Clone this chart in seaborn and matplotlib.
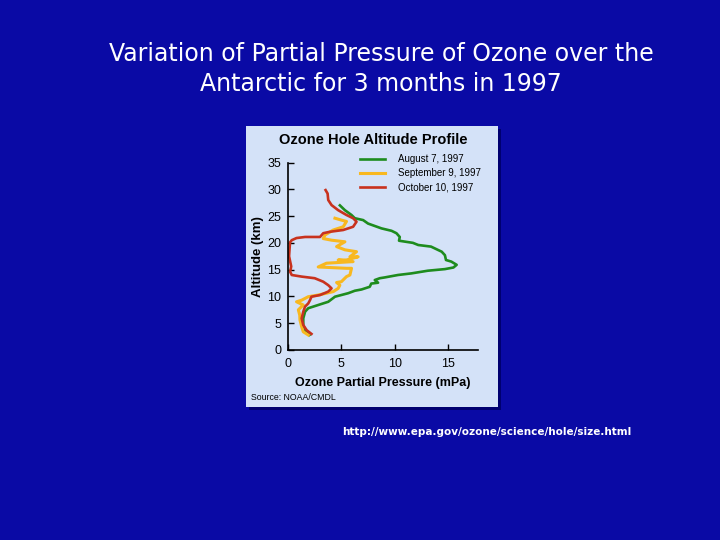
import pandas as pd
import numpy as np
import matplotlib
matplotlib.use("Agg")
import matplotlib.pyplot as plt
import seaborn as sns
from matplotlib.patches import Rectangle

#
# data (pressure in mPa, altitude in km), top to bottom
#
aug_pressure = [4.86, 5.33, 5.95, 6.26, 7.04, 7.5, 8.76, 9.7, 10.16, 10.47, 10.4, 11.7, 12.2,
                13.4, 14.4, 14.7, 14.8, 15.3, 15.8, 15.5, 14.7, 13.1, 11.56, 10.3, 9.07, 8.6,
                8.13, 8.44, 7.8, 7.66, 6.89, 6.26, 5.64, 4.4, 3.77, 2.83, 1.9, 1.6, 1.43,
                1.43, 1.6, 1.9, 2.0]
aug_altitude = [27.0, 26.1, 25.2, 24.6, 24.25, 23.6, 22.7, 22.25, 21.8, 21.1, 20.4, 20.0, 19.6,
                19.3, 18.35, 17.7, 16.8, 16.5, 15.9, 15.4, 15.1, 14.8, 14.3, 14.0, 13.55, 13.4,
                13.06, 12.56, 12.4, 11.8, 11.3, 11.06, 10.6, 9.95, 9.0, 8.4, 7.8, 7.15, 5.9,
                4.66, 3.7, 3.1, 2.8]

sep_pressure = [4.4, 5.0, 5.48, 5.17, 4.24, 3.46, 3.3, 4.08, 5.33, 4.55, 5.33, 6.42, 5.8, 6.57,
                5.48, 4.7, 6.1, 3.6, 2.83, 5.48, 5.95, 5.8, 5.48, 5.0, 4.55, 4.86, 4.7, 4.24,
                3.6, 2.83, 1.9, 1.28, 0.8, 1.43, 0.97, 1.1, 1.12, 1.28, 1.43, 1.9]
sep_altitude = [24.6, 24.25, 24.0, 23.0, 22.4, 21.45, 20.8, 20.5, 20.2, 19.3, 18.7, 18.35, 17.4,
                17.4, 16.8, 16.8, 16.5, 16.2, 15.5, 15.25, 15.25, 14.0, 13.7, 12.75, 12.6, 12.1,
                11.5, 10.9, 10.6, 10.26, 9.95, 9.3, 9.0, 8.4, 7.5, 6.5, 5.6, 4.35, 3.4, 2.8]

oct_pressure = [3.52, 3.71, 3.77, 4.08, 4.7, 5.48, 6.1, 6.42, 6.1, 5.17, 3.93, 3.3, 3.0, 1.6,
                0.8, 0.35, 0.19, 0.15, 0.1, 0.3, 0.2, 0.35, 1.28, 2.5, 3.3, 3.77, 4.08, 3.77,
                3.0, 2.2, 2.06, 1.9, 1.6, 1.43, 1.28, 1.43, 1.75, 2.2]
oct_altitude = [29.85, 29.2, 28.0, 27.05, 26.1, 25.2, 24.6, 23.95, 23.0, 22.4, 22.07, 21.8, 21.1,
                21.1, 20.9, 20.5, 20.1, 19.0, 17.5, 15.6, 14.6, 14.0, 13.7, 13.4, 12.75, 12.1,
                11.5, 10.9, 10.26, 9.95, 9.3, 8.7, 8.1, 7.15, 5.9, 4.66, 3.7, 3.0]

dates = ["August 7, 1997", "September 9, 1997", "October 10, 1997"]
x_ticks = [0, 5, 10, 15]
y_ticks = [0, 5, 10, 15, 20, 25, 30, 35]

profiles = pd.concat([
    pd.DataFrame({"pressure": aug_pressure, "altitude": aug_altitude, "date": dates[0]}),
    pd.DataFrame({"pressure": sep_pressure, "altitude": sep_altitude, "date": dates[1]}),
    pd.DataFrame({"pressure": oct_pressure, "altitude": oct_altitude, "date": dates[2]}),
], ignore_index=True)

colors = {dates[0]: "#1e8c1e", dates[1]: "#f8b820", dates[2]: "#c8321e"}

#
# figure : blue slide with light panel
#
W, H = 720, 540
fig = plt.figure(figsize=(7.2, 5.4), dpi=100)
fig.patch.set_facecolor("#0a0aa5")

# panel shadow + panel
fig.patches.append(Rectangle((249 / W, 1 - 410 / H), 252 / W, 281 / H,
                             transform=fig.transFigure, facecolor="#000070",
                             edgecolor="none", zorder=0))
fig.patches.append(Rectangle((246 / W, 1 - 407 / H), 252 / W, 281 / H,
                             transform=fig.transFigure, facecolor="#d4e2f8",
                             edgecolor="none", zorder=1))

ax = fig.add_axes([288 / W, 1 - 350 / H, 190 / W, 187.5 / H])
ax.set_zorder(3)
ax.patch.set_alpha(0)

sns.lineplot(data=profiles, x="pressure", y="altitude", hue="date", hue_order=dates,
             palette=colors, sort=False, estimator=None, linewidth=1.9, ax=ax)
for line in ax.lines:
    if line.get_color() == colors[dates[1]]:
        line.set_linewidth(2.2)

ax.set_xlim(0, 17.8)
ax.set_ylim(0, 35)
ax.set_xticks(x_ticks)
ax.set_yticks(y_ticks)
ax.tick_params(direction="in", length=4, width=1, labelsize=9, color="black")
ax.tick_params(axis="y", pad=5)
ax.tick_params(axis="x", pad=6)
for lab in ax.get_xticklabels() + ax.get_yticklabels():
    lab.set_family("Liberation Sans")
for s in ["top", "right"]:
    ax.spines[s].set_visible(False)
for s in ["left", "bottom"]:
    ax.spines[s].set_linewidth(1.2)
    ax.spines[s].set_color("black")

ax.set_xlabel("Ozone Partial Pressure (mPa)", fontsize=9, fontweight="bold",
              family="Liberation Sans", labelpad=5)
ax.set_ylabel("Altitude (km)", fontsize=9.5, fontweight="bold",
              family="Liberation Sans", labelpad=2)

ax.legend(loc="upper left", bbox_to_anchor=(360 / W, 1 - 154 / H),
          bbox_transform=fig.transFigure, frameon=False,
          prop={"family": "Liberation Sans", "size": 7},
          handlelength=2.6, handletextpad=1.3, labelspacing=0.45,
          borderpad=0, borderaxespad=0)

fig.text(373 / W, 1 - 140 / H, "Ozone Hole Altitude Profile", ha="center", va="center",
         fontsize=10.5, fontweight="bold", family="Liberation Sans", color="black", zorder=4)
fig.text(251 / W, 1 - 397 / H, "Source: NOAA/CMDL", ha="left", va="center",
         fontsize=6.3, family="Liberation Sans", color="black", zorder=4)

# slide title and url
fig.text(381 / W, 1 - 54 / H, "Variation of Partial Pressure of Ozone over the",
         ha="center", va="center", fontsize=17, color="white", family="DejaVu Sans")
fig.text(381 / W, 1 - 84 / H, "Antarctic for 3 months in 1997",
         ha="center", va="center", fontsize=17, color="white", family="DejaVu Sans")
fig.text(487 / W, 1 - 432 / H, "http://www.epa.gov/ozone/science/hole/size.html",
         ha="center", va="center", fontsize=7.5, fontweight="bold", color="white",
         family="DejaVu Sans")

fig.savefig("out.png", dpi=100, facecolor=fig.get_facecolor())
